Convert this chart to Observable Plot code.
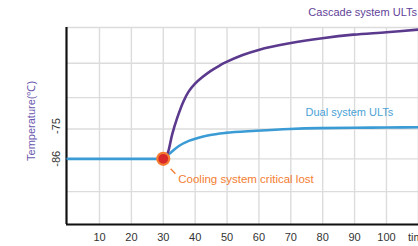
<!DOCTYPE html>
<html><head><meta charset="utf-8">
<script src="https://cdn.jsdelivr.net/npm/d3@7"></script>
<script src="https://cdn.jsdelivr.net/npm/@observablehq/plot@0.6"></script>
<style>html,body{margin:0;padding:0;background:#fff;} svg{display:block;}</style>
</head><body><div id="chart"></div>
<script>
// Data
const xTicks = [10, 20, 30, 40, 50, 60, 70, 80, 90, 100, 110];
const xTickLabels = ["10", "20", "30", "40", "50", "60", "70", "80", "90", "100", "time"];
const yGrid = [-108, -97, -86, -76, -65.5, -54, -42];
const yTickValues = [-86, -75];
const yTickLabels = ["-86", "-75"];
const xDomain = [-0.35, 110.05];
const yDomain = [-108, -42];

const dualX = [0, 30, 31.7, 34.9, 38.0, 41.1, 44.3, 49.5, 59.2, 69.6, 79.0, 90, 100, 110];
const dualY = [-86, -86, -84.5, -81.7, -80.0, -78.9, -78.1, -77.3, -76.6, -76.0, -75.7, -75.6, -75.5, -75.4];

const cascadeX = [30.7, 31.6, 32.8, 34.4, 36.4, 38.0, 39.9, 42.2, 44.8, 47.4, 49.5, 54.7, 59.9, 69.6, 79.9, 89.6, 100, 110];
const cascadeY = [-86, -83.4, -77.8, -72.2, -66.6, -63.4, -60.9, -58.7, -56.6, -54.9, -53.7, -51.3, -49.5, -47.3, -45.6, -44.4, -43.6, -42.7];

const eventX = [30];
const eventY = [-86];

const seriesLabels = ["Cascade system ULTs", "Dual system ULTs"];
const eventLabel = "Cooling system critical lost";
const yTitle = "Temperature(℃)";

const dual = dualX.map((x, i) => ({x, y: dualY[i]}));
const cascade = cascadeX.map((x, i) => ({x, y: cascadeY[i]}));
const events = eventX.map((x, i) => ({x, y: eventY[i]}));

const PURPLE = "#5b3a8e";
const BLUE = "#3a9bd5";
const ORANGE = "#f47d31";
const RED = "#d8282a";
const FONT = "'Liberation Sans', Arial, Helvetica, sans-serif";

const chart = Plot.plot({
  width: 418,
  height: 246,
  marginLeft: 66,
  marginRight: 0,
  marginTop: 27,
  marginBottom: 22,
  x: {domain: xDomain, axis: null},
  y: {domain: yDomain, axis: null},
  style: {fontFamily: FONT, fontSize: "11px", background: "#fff"},
  marks: [
    Plot.ruleX(xTicks, {stroke: "#dcdcdc", strokeWidth: 1.4}),
    Plot.ruleY(yGrid, {stroke: "#dcdcdc", strokeWidth: 1.4}),
    Plot.ruleX([xDomain[0]], {stroke: "#111", strokeWidth: 2.2}),
    Plot.ruleY([yDomain[0]], {stroke: "#111", strokeWidth: 2.2}),
    Plot.text(xTicks, {x: d => d, text: (d, i) => xTickLabels[i], frameAnchor: "bottom", dy: 16, fill: "#333", fontSize: 11}),
    Plot.text(yTickValues, {y: d => d, text: (d, i) => yTickLabels[i], frameAnchor: "left", textAnchor: "middle", dx: -10, rotate: -90, fill: "#333", fontSize: 11}),
    Plot.text([yTitle], {y: -73.3, text: d => d, frameAnchor: "left", textAnchor: "middle", dx: -35, rotate: -90, fill: "#6a57ae", fontSize: 11}),
    Plot.line(dual, {x: "x", y: "y", stroke: BLUE, strokeWidth: 2.6, curve: "monotone-x"}),
    Plot.line(cascade, {x: "x", y: "y", stroke: PURPLE, strokeWidth: 2.6, curve: "catmull-rom"}),
    Plot.dot(events, {x: "x", y: "y", r: 6, fill: RED, stroke: ORANGE, strokeWidth: 2.2}),
    Plot.link([{x1: 32.3, y1: -89.3, x2: 33.8, y2: -91.0}], {x1: "x1", y1: "y1", x2: "x2", y2: "y2", stroke: ORANGE, strokeWidth: 1.3}),
    Plot.text([eventLabel], {x: 34.7, y: -92.8, text: d => d, textAnchor: "start", fill: ORANGE, fontSize: 11.5}),
    Plot.text([seriesLabels[0]], {x: 75.5, y: -36.9, text: d => d, textAnchor: "start", fill: "#5f3f99", fontSize: 11}),
    Plot.text([seriesLabels[1]], {x: 74.6, y: -70.6, text: d => d, textAnchor: "start", fill: "#4aa3d6", fontSize: 11})
  ]
});
document.getElementById("chart").appendChild(chart);
</script>
</body></html>
